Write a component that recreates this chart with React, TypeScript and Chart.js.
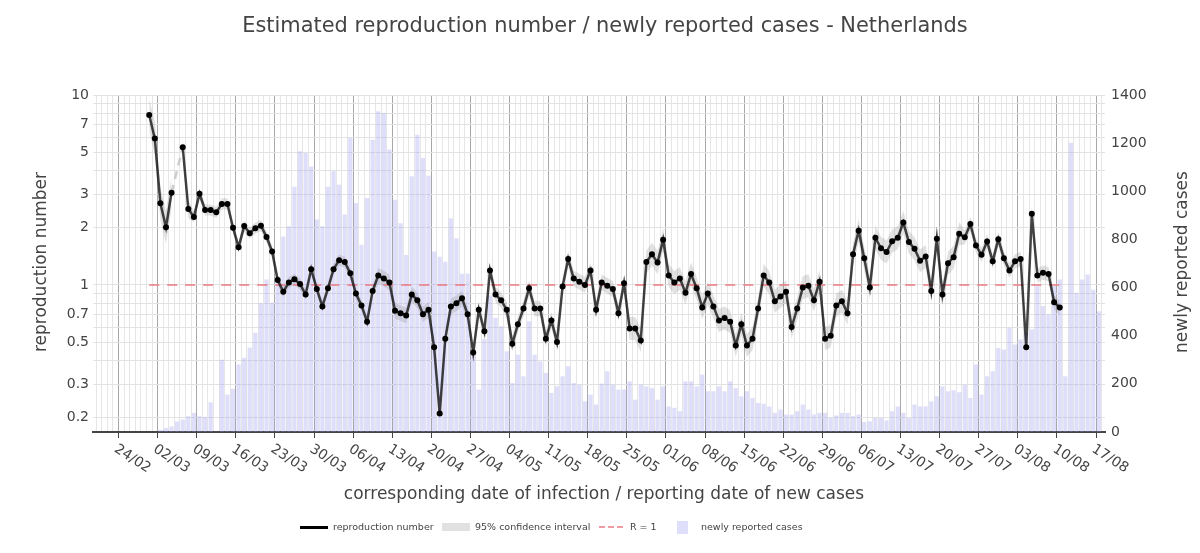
import React, { useEffect, useRef } from "react";
import { Chart, registerables } from "chart.js";

Chart.register(...registerables);

const TITLE = "Estimated reproduction number / newly reported cases - Netherlands";
const X_TITLE = "corresponding date of infection / reporting date of new cases";
const Y_TITLE = "reproduction number";
const Y2_TITLE = "newly reported cases";

// weekly tick labels, day 0 = 24/02
const tickLabels = ["24/02","02/03","09/03","16/03","23/03","30/03","06/04","13/04","20/04","27/04","04/05","11/05","18/05","25/05","01/06","08/06","15/06","22/06","29/06","06/07","13/07","20/07","27/07","03/08","10/08","17/08"];

const R_START_DAY = 5;
const rValues: (number | null)[] = [
  7.85,5.9,2.69,2.01,3.06,null,5.3,2.51,2.28,3.02,2.48,2.48,2.41,2.67,2.67,
  2.0,1.58,2.04,1.87,1.99,2.05,1.79,1.50,1.06,0.92,1.03,1.07,1.01,0.89,1.21,0.95,
  0.77,0.96,1.21,1.35,1.32,1.15,0.90,0.78,0.64,0.93,1.12,1.08,1.03,0.73,0.71,0.69,
  0.89,0.83,0.70,0.74,0.47,0.21,0.52,0.77,
  0.80,0.85,0.70,0.44,0.74,0.57,1.19,0.89,0.83,0.74,0.49,0.62,0.75,0.96,0.75,0.75,
  0.52,0.65,0.50,0.98,1.37,1.08,1.04,1.0,1.19,0.74,1.03,0.99,0.95,0.71,1.02,0.59,
  0.59,0.51,1.32,1.45,1.31,1.73,1.12,1.03,1.08,0.91,1.14,0.96,0.76,0.90,0.77,0.65,
  0.67,0.64,0.48,0.62,0.48,0.52,0.75,1.12,1.03,0.82,
  0.87,0.92,0.60,0.75,0.97,0.99,0.83,1.04,0.52,0.54,0.78,0.82,0.71,1.45,1.93,1.38,
  0.97,1.77,1.56,1.49,1.70,1.77,2.13,1.68,1.55,1.34,1.41,0.93,1.75,0.89,1.30,1.40,
  1.86,1.78,2.09,1.61,1.44,1.69,1.33,1.74,1.38,1.19,1.33,1.37,0.47,2.37,1.12,1.16,
  1.14,0.81,0.76,
];

// confidence interval relative spread per day range [fromDay, toDay, factor]
const ciRanges: [number, number, number][] = [
  [5, 9, 1.22], [10, 12, 1.12], [13, 45, 1.07], [46, 90, 1.1], [91, 150, 1.15], [151, 168, 1.09],
];

const CASES_START_DAY = 7;
const casesValues = [
  8,15,22,42,50,64,78,64,61,122,
  0,299,154,178,279,307,349,411,533,632,536,
  645,811,853,1017,1165,1158,1102,881,853,1017,1082,1026,902,1220,950,777,971,1213,1331,1324,1172,
  963,866,734,1061,1234,1137,1063,748,727,706,887,804,656,656,326,175,386,566,473,438,334,202,320,230,459,320,292,244,161,189,230,272,202,195,126,154,113,200,251,195,175,
  175,209,133,195,188,181,133,188,105,99,85,209,209,188,237,168,168,188,168,209,181,147,168,140,119,116,105,78,92,71,71,85,113,92,71,78,78,57,67,78,78,64,
  71,40,43,57,57,47,85,105,78,57,113,105,105,126,147,188,168,172,164,195,140,279,154,230,251,348,341,431,362,383,411,425,605,522,487,605,632,230,1200,577,632,653,590,500,
];

const yMinorTicks = [0.2,0.3,0.4,0.5,0.6,0.7,0.8,0.9,1,2,3,4,5,6,7,8,9,10];
const yLabelled = [0.2,0.3,0.5,0.7,1,2,3,5,7,10];

const FONT = "'DejaVu Sans', sans-serif";
const TXT = "#444";

function ciFactor(day: number) {
  for (const [a, b, f] of ciRanges) if (day >= a && day <= b) return f;
  return 1.1;
}

export default function App() {
  const ref = useRef<HTMLCanvasElement | null>(null);
  useEffect(() => {
    document.body.style.margin = "0";
    const rData = rValues.map((v, i) => ({ x: R_START_DAY + i, y: v }));
    const upper = rValues.map((v, i) => ({ x: R_START_DAY + i, y: v == null ? null : v * ciFactor(R_START_DAY + i) }));
    const lower = rValues.map((v, i) => ({ x: R_START_DAY + i, y: v == null ? null : v / ciFactor(R_START_DAY + i) }));
    const gapIdx = rValues.indexOf(null);
    const gapData = [
      { x: R_START_DAY + gapIdx - 1, y: rValues[gapIdx - 1] },
      { x: R_START_DAY + gapIdx + 1, y: rValues[gapIdx + 1] },
    ];
    const cases = casesValues.map((v, i) => ({ x: CASES_START_DAY + i, y: v }));
    const rEnd = R_START_DAY + rValues.length - 1;

    const textPlugin = {
      id: "texts",
      afterDraw(chart: any) {
        const ctx = chart.ctx;
        const xs = chart.scales.x;
        const area = chart.chartArea;
        ctx.save();
        ctx.fillStyle = TXT;
        ctx.font = `14px ${FONT}`;
        ctx.textAlign = "left";
        ctx.textBaseline = "top";
        tickLabels.forEach((lab, i) => {
          const px = xs.getPixelForValue(i * 7);
          ctx.save();
          ctx.translate(px - 2, area.bottom + 10);
          ctx.rotate((33 * Math.PI) / 180);
          ctx.fillText(lab, 0, 0);
          ctx.restore();
        });
        ctx.font = `17px ${FONT}`;
        ctx.textAlign = "center";
        ctx.textBaseline = "middle";
        ctx.fillText(X_TITLE, 604, 495);
        ctx.save();
        ctx.translate(42, 262);
        ctx.rotate(-Math.PI / 2);
        ctx.fillText(Y_TITLE, 0, 0);
        ctx.restore();
        ctx.save();
        ctx.translate(1183, 262);
        ctx.rotate(-Math.PI / 2);
        ctx.fillText(Y2_TITLE, 0, 0);
        ctx.restore();
        ctx.restore();
      },
    };

    const chart = new Chart(ref.current as HTMLCanvasElement, {
      data: {
        datasets: [
          {
            type: "bar", label: "newly reported cases", data: cases as any, yAxisID: "y2",
            backgroundColor: "rgba(150,150,245,0.3)", barThickness: 3.6, order: 10,
          },
          {
            type: "line", label: "upper", data: upper as any, yAxisID: "y",
            borderWidth: 0, pointRadius: 0, fill: "+1", backgroundColor: "rgba(140,140,140,0.26)",
            spanGaps: false, order: 5,
          },
          {
            type: "line", label: "lower", data: lower as any, yAxisID: "y",
            borderWidth: 0, pointRadius: 0, fill: false, spanGaps: false, order: 5,
          },
          {
            type: "line", label: "R = 1", data: [{ x: R_START_DAY, y: 1 }, { x: rEnd, y: 1 }] as any, yAxisID: "y",
            borderColor: "rgba(235,120,130,0.75)", borderWidth: 2, borderDash: [10, 8], pointRadius: 0, order: 4,
          },
          {
            type: "line", label: "gap", data: gapData as any, yAxisID: "y",
            borderColor: "rgba(200,200,200,0.9)", borderWidth: 2.5, borderDash: [8, 6], pointRadius: 0, order: 3,
          },
          {
            type: "line", label: "reproduction number", data: rData as any, yAxisID: "y",
            borderColor: "rgba(0,0,0,0.72)", borderWidth: 2.5, pointRadius: 3, pointBackgroundColor: "#000",
            pointBorderWidth: 0, spanGaps: false, order: 1,
          },
        ],
      },
      options: {
        responsive: false,
        animation: false,
        maintainAspectRatio: false,
        layout: { padding: { top: 95, left: 0, right: 0, bottom: 0 } },
        plugins: { legend: { display: false }, tooltip: { enabled: false }, title: { display: false } },
        scales: {
          x: {
            type: "linear", min: -4.56, max: 175.6,
            afterBuildTicks: (s: any) => {
              const t = [];
              for (let d = -4; d <= 175; d++) t.push({ value: d });
              s.ticks = t;
            },
            ticks: { display: false, autoSkip: false },
            grid: {
              color: (c: any) => (c.tick && c.tick.value % 7 === 0 ? "#a8a8a8" : "#e6e6e6"),
              tickColor: (c: any) => (c.tick && c.tick.value % 7 === 0 ? "#444" : "rgba(0,0,0,0)"),
              tickLength: 6,
              lineWidth: 1,
            },
            border: { color: "#444", width: 2 },
            afterFit: (s: any) => { s.height = 121; },
          },
          y: {
            type: "logarithmic", position: "left", min: 0.168, max: 10,
            afterBuildTicks: (s: any) => { s.ticks = yMinorTicks.map((v) => ({ value: v })); },
            ticks: {
              autoSkip: false, color: TXT, font: { size: 14, family: FONT }, padding: 4,
              callback: (v: any) => (yLabelled.includes(v) ? String(v) : ""),
            },
            grid: { color: "#e2e2e2", drawTicks: false },
            border: { display: false },
            afterFit: (s: any) => { s.width = 93; },
          },
          y2: {
            type: "linear", position: "right", min: 0, max: 1400,
            ticks: { stepSize: 200, color: TXT, font: { size: 14, family: FONT }, padding: 6, callback: (v: any) => String(v) },
            grid: { display: false, drawTicks: false },
            border: { display: false },
            afterFit: (s: any) => { s.width = 95; },
          },
        },
      } as any,
      plugins: [textPlugin],
    });
    return () => chart.destroy();
  }, []);

  const legendText: React.CSSProperties = { position: "absolute", top: 520, fontSize: 9.5, color: TXT, fontFamily: FONT, whiteSpace: "nowrap", lineHeight: "14px" };
  return (
    <div style={{ position: "relative", width: 1200, height: 553, background: "#fff", overflow: "hidden" }}>
      <canvas ref={ref} width={1200} height={553} style={{ position: "absolute", left: 0, top: 0 }} />
      <div style={{ position: "absolute", top: 13, left: 0, width: 1210, textAlign: "center", fontSize: 20.9, color: TXT, fontFamily: FONT }}>
        {TITLE}
      </div>
      <div style={{ position: "absolute", left: 300, top: 526, width: 28, height: 2.5, background: "#000" }} />
      <div style={{ ...legendText, left: 333 }}>reproduction number</div>
      <div style={{ position: "absolute", left: 442, top: 523, width: 28, height: 8, background: "rgba(140,140,140,0.26)" }} />
      <div style={{ ...legendText, left: 475 }}>95% confidence interval</div>
      <div style={{ position: "absolute", left: 599, top: 526, width: 24, height: 0, borderTop: "2px dashed rgba(235,120,130,0.75)" }} />
      <div style={{ ...legendText, left: 630 }}>R = 1</div>
      <div style={{ position: "absolute", left: 677, top: 521, width: 11, height: 13, background: "rgba(150,150,245,0.3)" }} />
      <div style={{ ...legendText, left: 701 }}>newly reported cases</div>
    </div>
  );
}
